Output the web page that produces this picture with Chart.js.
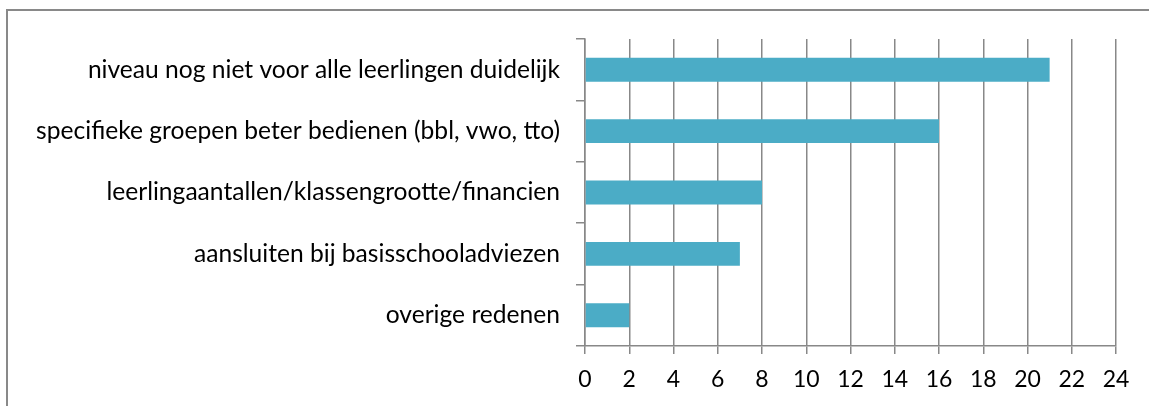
<!DOCTYPE html>
<html>
<head>
<meta charset="utf-8">
<script src="https://cdn.jsdelivr.net/npm/chart.js@4"></script>
<style>
  html, body { margin: 0; padding: 0; background: #fff; width: 1149px; height: 406px; overflow: hidden; }
  #frame { position: absolute; left: 6px; top: 9px; width: 1200px; height: 500px; border: 2px solid #898989; box-sizing: border-box; }
  #wrap { position: absolute; left: 0; top: 0; width: 1149px; height: 406px; }
</style>
</head>
<body>
<div id="frame"></div>
<div id="wrap"><canvas id="c" width="1149" height="406"></canvas></div>
<script>
const categories = [
  "niveau nog niet voor alle leerlingen duidelijk",
  "specifieke groepen beter bedienen (bbl, vwo, tto)",
  "leerlingaantallen/klassengrootte/financien",
  "aansluiten bij basisschooladviezen",
  "overige redenen"
];
const values = [21, 16, 8, 7, 2];
const xMin = 0, xMax = 24, xStep = 2;

const FONT = "Lato, 'Liberation Sans', sans-serif";

new Chart(document.getElementById('c'), {
  type: 'bar',
  data: {
    labels: categories,
    datasets: [{
      data: values,
      backgroundColor: '#4BACC6',
      borderWidth: 0,
      categoryPercentage: 1.0,
      barPercentage: 0.39
    }]
  },
  options: {
    indexAxis: 'y',
    responsive: false,
    animation: false,
    devicePixelRatio: 1,
    layout: { padding: { top: 39, right: 33, left: 0, bottom: 0 } },
    plugins: { legend: { display: false }, tooltip: { enabled: false } },
    scales: {
      x: {
        min: xMin, max: xMax,
        ticks: { stepSize: xStep, color: '#000', font: { family: FONT, size: 23 }, padding: 12, maxRotation: 0 },
        grid: { color: '#888888', lineWidth: 1.5, tickLength: 8, drawOnChartArea: true },
        border: { color: '#888888', width: 1.5 },
        afterFit: s => { s.height = 60; }
      },
      y: {
        ticks: { color: '#000', font: { family: FONT, size: 24.6 }, padding: 16 },
        grid: { color: '#888888', lineWidth: 1.5, tickLength: 9, drawOnChartArea: false, offset: true },
        border: { color: '#888888', width: 1.5 },
        afterFit: s => { s.width = 585; }
      }
    }
  }
});
</script>
</body>
</html>
